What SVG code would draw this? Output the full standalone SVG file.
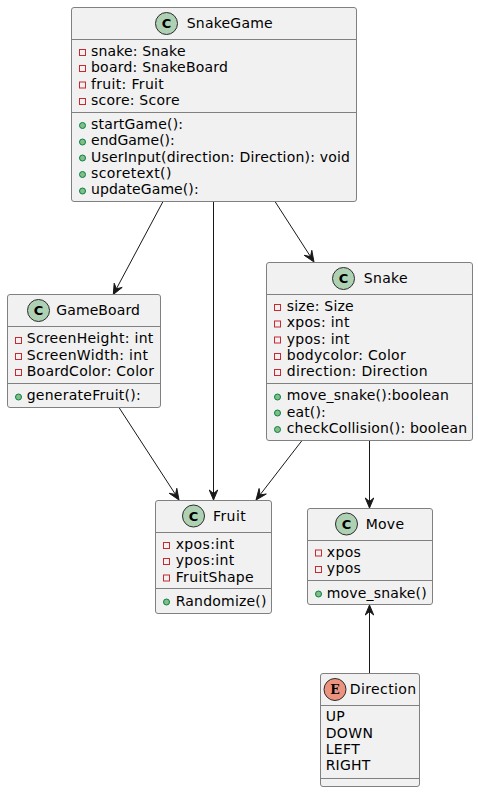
<svg xmlns="http://www.w3.org/2000/svg" width="478" height="792" viewBox="0 0 478 792">
<style>
text{font-family:"DejaVu Sans",sans-serif;font-size:14px;fill:#000}
.box{fill:#F1F1F1;stroke:#808080;stroke-width:1}
.div{stroke:#808080;stroke-width:1;fill:none}
.ico{fill:#ADD1B2;stroke:#2B2B2B;stroke-width:1}
.ico2{fill:#EB937F;stroke:#2B2B2B;stroke-width:1}
text.g{font-family:"DejaVu Sans",sans-serif;font-weight:bold;font-size:13px;text-anchor:middle}
text.e{font-family:"DejaVu Serif",serif;font-weight:bold;font-size:12.5px;text-anchor:middle}
.pv{fill:none;stroke:#C82930;stroke-width:1}
.pb{fill:#84BE84;stroke:#038048;stroke-width:1}
.c{stroke:#181818;stroke-width:1;fill:none}
.a{fill:#181818;stroke:#181818;stroke-width:1}
</style>
<defs>
<rect id="pv" class="pv" x="-3" y="-3" width="6" height="6"/>
<circle id="pb" class="pb" r="3"/>
</defs>
<g id="connectors">
<path class="c" d="M163,201.500L116.400,288.800"/><path class="a" d="M113.300,294.500L122.200,287.400L116.400,288.800L114.200,283.200Z"/>
<path class="c" d="M213.500,201.500V494"/><path class="a" d="M213.500,500L217.700,490L213.500,493.500L209.300,490Z"/>
<path class="c" d="M275,201.500L310.500,256.600"/><path class="a" d="M314,262L311.800,250.300L310.500,256.600L304.200,255.300Z"/>
<path class="c" d="M119,407.500L175.500,494.500"/><path class="a" d="M179,500L176.800,488.300L175.500,494.500L169.200,493.300Z"/>
<path class="c" d="M302,440.500L260,494.900"/><path class="a" d="M256,500L266.300,494L260,494.900L259.100,488.500Z"/>
<path class="c" d="M369.500,440.500V502"/><path class="a" d="M369.500,508L373.700,498L369.500,501.500L365.300,498Z"/>
<path class="c" d="M369.500,673V611"/><path class="a" d="M369.500,605L365.300,615L369.500,611.500L373.700,615Z"/>
</g>
<g id="SnakeGame">
<rect class="box" x="71.500" y="7.500" width="285" height="194" rx="2.500"/>
<path class="div" d="M71.500,39.500H356.500M71.500,112.500H356.500"/>
<circle class="ico" cx="166.500" cy="23.500" r="11"/><text class="g" x="166.500" y="28.200">C</text>
<text x="186.700" y="28" textLength="86">SnakeGame</text>
<use href="#pv" x="82.500" y="52.500"/><text x="91" y="56" textLength="94.500">snake: Snake</text>
<use href="#pv" x="82.500" y="68.500"/><text x="91" y="72" textLength="137">board: SnakeBoard</text>
<use href="#pv" x="82.500" y="85"/><text x="91" y="89" textLength="72.800">fruit: Fruit</text>
<use href="#pv" x="82.500" y="101.500"/><text x="91" y="105" textLength="88.500">score: Score</text>
<use href="#pb" x="82.500" y="125.500"/><text x="91" y="129" textLength="92">startGame():</text>
<use href="#pb" x="82.500" y="142"/><text x="91" y="145" textLength="83.800">endGame():</text>
<use href="#pb" x="82.500" y="158"/><text x="91" y="162" textLength="259">UserInput(direction: Direction): void</text>
<use href="#pb" x="82.500" y="174.500"/><text x="91" y="178" textLength="80.400">scoretext()</text>
<use href="#pb" x="82.500" y="191"/><text x="91" y="194" textLength="107.600">updateGame():</text>
</g>
<g id="GameBoard">
<rect class="box" x="7.500" y="294.500" width="153" height="113" rx="2.500"/>
<path class="div" d="M7.500,326.500H160.500M7.500,383.500H160.500"/>
<circle class="ico" cx="38.500" cy="310.500" r="11"/><text class="g" x="38.500" y="315.200">C</text>
<text x="56.200" y="315" textLength="83.800">GameBoard</text>
<use href="#pv" x="18.500" y="340.500"/><text x="26.700" y="343" textLength="126.600">ScreenHeight: int</text>
<use href="#pv" x="18.500" y="356.500"/><text x="26.700" y="360" textLength="121.300">ScreenWidth: int</text>
<use href="#pv" x="18.500" y="372.500"/><text x="26.700" y="376" textLength="127.200">BoardColor: Color</text>
<use href="#pb" x="18.500" y="397"/><text x="26.700" y="400" textLength="114">generateFruit():</text>
</g>
<g id="Snake">
<rect class="box" x="266.500" y="262.500" width="206" height="178" rx="2.500"/>
<path class="div" d="M266.500,294.500H472.500M266.500,383.500H472.500"/>
<circle class="ico" cx="343.500" cy="278.500" r="11"/><text class="g" x="343.500" y="283.200">C</text>
<text x="363.700" y="283" textLength="44">Snake</text>
<use href="#pv" x="277.500" y="307.500"/><text x="286.700" y="311" textLength="67">size: Size</text>
<use href="#pv" x="277.500" y="324"/><text x="286.700" y="327" textLength="62.800">xpos: int</text>
<use href="#pv" x="277.500" y="340"/><text x="286.700" y="344" textLength="62.800">ypos: int</text>
<use href="#pv" x="277.500" y="356.500"/><text x="286.700" y="360" textLength="119">bodycolor: Color</text>
<use href="#pv" x="277.500" y="372.500"/><text x="286.700" y="376" textLength="141">direction: Direction</text>
<use href="#pb" x="277.500" y="397"/><text x="286.700" y="400" textLength="162.200">move_snake():boolean</text>
<use href="#pb" x="277.500" y="413"/><text x="286.700" y="417" textLength="39">eat():</text>
<use href="#pb" x="277.500" y="429.500"/><text x="286.700" y="433" textLength="180.500">checkCollision(): boolean</text>
</g>
<g id="Fruit">
<rect class="box" x="155.500" y="500.500" width="116" height="113" rx="2.500"/>
<path class="div" d="M155.500,532.500H271.500M155.500,588.500H271.500"/>
<circle class="ico" cx="193.500" cy="516" r="11"/><text class="g" x="193.500" y="520.700">C</text>
<text x="212.900" y="521" textLength="32.800">Fruit</text>
<use href="#pv" x="166.500" y="545.500"/><text x="175.700" y="549" textLength="58.600">xpos:int</text>
<use href="#pv" x="166.500" y="561.500"/><text x="175.700" y="565" textLength="58.600">ypos:int</text>
<use href="#pv" x="166.500" y="578"/><text x="175.700" y="582" textLength="78">FruitShape</text>
<use href="#pb" x="166.500" y="602"/><text x="175.700" y="606" textLength="90.800">Randomize()</text>
</g>
<g id="Move">
<rect class="box" x="307.500" y="508.500" width="125" height="96" rx="2.500"/>
<path class="div" d="M307.500,540.500H432.500M307.500,580.500H432.500"/>
<circle class="ico" cx="346.500" cy="524" r="11"/><text class="g" x="346.500" y="528.700">C</text>
<text x="365.700" y="529" textLength="38.300">Move</text>
<use href="#pv" x="318.500" y="553"/><text x="326.700" y="557" textLength="34.200">xpos</text>
<use href="#pv" x="318.500" y="569.500"/><text x="326.700" y="573" textLength="34.200">ypos</text>
<use href="#pb" x="318.500" y="594"/><text x="326.700" y="598" textLength="100">move_snake()</text>
</g>
<g id="Direction">
<rect class="box" x="320.500" y="673.500" width="99" height="113" rx="2.500"/>
<path class="div" d="M320.500,705.500H419.500M320.500,778.500H419.500"/>
<circle class="ico2" cx="335" cy="689.500" r="11"/><text class="e" x="335" y="694">E</text>
<text x="349.700" y="694" textLength="66.500">Direction</text>
<text x="325.700" y="721" textLength="19">UP</text>
<text x="325.700" y="738" textLength="47.200">DOWN</text>
<text x="325.700" y="754" textLength="34">LEFT</text>
<text x="325.700" y="770" textLength="44.500">RIGHT</text>
</g>
</svg>
